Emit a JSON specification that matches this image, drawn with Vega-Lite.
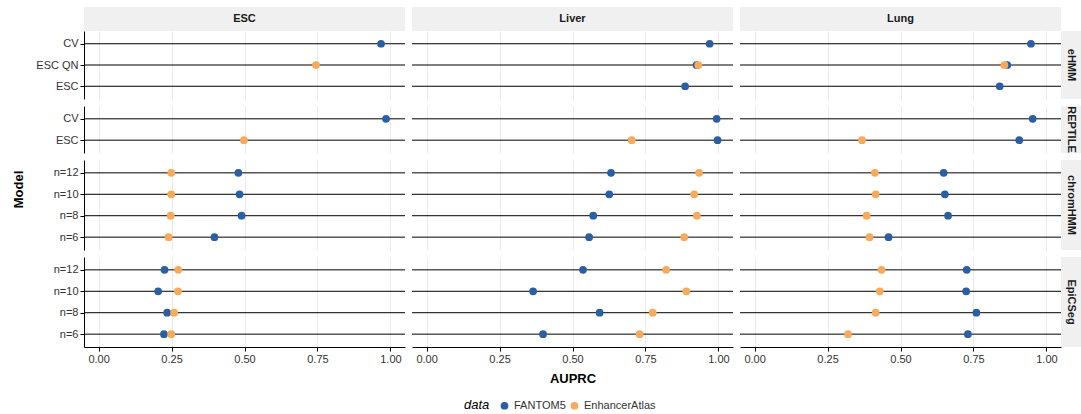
{
  "$schema": "https://vega.github.io/schema/vega-lite/v6.json",
  "background": "white",
  "autosize": {"type": "pad"},
  "padding": {"left": 0, "top": 7, "right": 0, "bottom": 0},
  "config": {
    "font": "Liberation Sans",
    "view": {"stroke": null},
    "legend": {
      "orient": "none",
      "legendX": 464,
      "legendY": 393,
      "direction": "horizontal",
      "titleOrient": "left",
      "titleFontStyle": "italic",
      "titleFontWeight": "normal",
      "titleFontSize": 13,
      "titleColor": "black",
      "titlePadding": 9,
      "labelFontSize": 11,
      "labelColor": "#333333",
      "labelOffset": 4,
      "columnPadding": 3,
      "symbolType": "circle",
      "symbolSize": 60,
      "symbolStrokeWidth": 0,
      "symbolOpacity": 1
    }
  },
  "datasets": {
    "models": [
      {"method": "eHMM", "model": "CV"},
      {"method": "eHMM", "model": "ESC QN"},
      {"method": "eHMM", "model": "ESC"},
      {"method": "REPTILE", "model": "CV"},
      {"method": "REPTILE", "model": "ESC"},
      {"method": "chromHMM", "model": "n=12"},
      {"method": "chromHMM", "model": "n=10"},
      {"method": "chromHMM", "model": "n=8"},
      {"method": "chromHMM", "model": "n=6"},
      {"method": "EpiCSeg", "model": "n=12"},
      {"method": "EpiCSeg", "model": "n=10"},
      {"method": "EpiCSeg", "model": "n=8"},
      {"method": "EpiCSeg", "model": "n=6"}
    ],
    "scores": [
      {"tissue": "ESC", "method": "eHMM", "model": "CV", "data": "FANTOM5", "auprc": 0.968},
      {"tissue": "ESC", "method": "eHMM", "model": "ESC QN", "data": "EnhancerAtlas", "auprc": 0.745},
      {"tissue": "ESC", "method": "REPTILE", "model": "CV", "data": "FANTOM5", "auprc": 0.985},
      {"tissue": "ESC", "method": "REPTILE", "model": "ESC", "data": "EnhancerAtlas", "auprc": 0.498},
      {"tissue": "ESC", "method": "chromHMM", "model": "n=12", "data": "FANTOM5", "auprc": 0.479},
      {"tissue": "ESC", "method": "chromHMM", "model": "n=10", "data": "FANTOM5", "auprc": 0.483},
      {"tissue": "ESC", "method": "chromHMM", "model": "n=8", "data": "FANTOM5", "auprc": 0.490},
      {"tissue": "ESC", "method": "chromHMM", "model": "n=6", "data": "FANTOM5", "auprc": 0.397},
      {"tissue": "ESC", "method": "chromHMM", "model": "n=12", "data": "EnhancerAtlas", "auprc": 0.249},
      {"tissue": "ESC", "method": "chromHMM", "model": "n=10", "data": "EnhancerAtlas", "auprc": 0.249},
      {"tissue": "ESC", "method": "chromHMM", "model": "n=8", "data": "EnhancerAtlas", "auprc": 0.247},
      {"tissue": "ESC", "method": "chromHMM", "model": "n=6", "data": "EnhancerAtlas", "auprc": 0.240},
      {"tissue": "ESC", "method": "EpiCSeg", "model": "n=12", "data": "FANTOM5", "auprc": 0.226},
      {"tissue": "ESC", "method": "EpiCSeg", "model": "n=10", "data": "FANTOM5", "auprc": 0.204},
      {"tissue": "ESC", "method": "EpiCSeg", "model": "n=8", "data": "FANTOM5", "auprc": 0.235},
      {"tissue": "ESC", "method": "EpiCSeg", "model": "n=6", "data": "FANTOM5", "auprc": 0.224},
      {"tissue": "ESC", "method": "EpiCSeg", "model": "n=12", "data": "EnhancerAtlas", "auprc": 0.273},
      {"tissue": "ESC", "method": "EpiCSeg", "model": "n=10", "data": "EnhancerAtlas", "auprc": 0.272},
      {"tissue": "ESC", "method": "EpiCSeg", "model": "n=8", "data": "EnhancerAtlas", "auprc": 0.259},
      {"tissue": "ESC", "method": "EpiCSeg", "model": "n=6", "data": "EnhancerAtlas", "auprc": 0.249},
      {"tissue": "Liver", "method": "eHMM", "model": "CV", "data": "FANTOM5", "auprc": 0.970},
      {"tissue": "Liver", "method": "eHMM", "model": "ESC QN", "data": "FANTOM5", "auprc": 0.925},
      {"tissue": "Liver", "method": "eHMM", "model": "ESC", "data": "FANTOM5", "auprc": 0.886},
      {"tissue": "Liver", "method": "eHMM", "model": "ESC QN", "data": "EnhancerAtlas", "auprc": 0.931},
      {"tissue": "Liver", "method": "REPTILE", "model": "CV", "data": "FANTOM5", "auprc": 0.994},
      {"tissue": "Liver", "method": "REPTILE", "model": "ESC", "data": "FANTOM5", "auprc": 0.997},
      {"tissue": "Liver", "method": "REPTILE", "model": "ESC", "data": "EnhancerAtlas", "auprc": 0.703},
      {"tissue": "Liver", "method": "chromHMM", "model": "n=12", "data": "FANTOM5", "auprc": 0.632},
      {"tissue": "Liver", "method": "chromHMM", "model": "n=10", "data": "FANTOM5", "auprc": 0.626},
      {"tissue": "Liver", "method": "chromHMM", "model": "n=8", "data": "FANTOM5", "auprc": 0.571},
      {"tissue": "Liver", "method": "chromHMM", "model": "n=6", "data": "FANTOM5", "auprc": 0.557},
      {"tissue": "Liver", "method": "chromHMM", "model": "n=12", "data": "EnhancerAtlas", "auprc": 0.934},
      {"tissue": "Liver", "method": "chromHMM", "model": "n=10", "data": "EnhancerAtlas", "auprc": 0.917},
      {"tissue": "Liver", "method": "chromHMM", "model": "n=8", "data": "EnhancerAtlas", "auprc": 0.926},
      {"tissue": "Liver", "method": "chromHMM", "model": "n=6", "data": "EnhancerAtlas", "auprc": 0.883},
      {"tissue": "Liver", "method": "EpiCSeg", "model": "n=12", "data": "FANTOM5", "auprc": 0.536},
      {"tissue": "Liver", "method": "EpiCSeg", "model": "n=10", "data": "FANTOM5", "auprc": 0.365},
      {"tissue": "Liver", "method": "EpiCSeg", "model": "n=8", "data": "FANTOM5", "auprc": 0.593},
      {"tissue": "Liver", "method": "EpiCSeg", "model": "n=6", "data": "FANTOM5", "auprc": 0.399},
      {"tissue": "Liver", "method": "EpiCSeg", "model": "n=12", "data": "EnhancerAtlas", "auprc": 0.821},
      {"tissue": "Liver", "method": "EpiCSeg", "model": "n=10", "data": "EnhancerAtlas", "auprc": 0.890},
      {"tissue": "Liver", "method": "EpiCSeg", "model": "n=8", "data": "EnhancerAtlas", "auprc": 0.775},
      {"tissue": "Liver", "method": "EpiCSeg", "model": "n=6", "data": "EnhancerAtlas", "auprc": 0.730},
      {"tissue": "Lung", "method": "eHMM", "model": "CV", "data": "FANTOM5", "auprc": 0.947},
      {"tissue": "Lung", "method": "eHMM", "model": "ESC QN", "data": "FANTOM5", "auprc": 0.866},
      {"tissue": "Lung", "method": "eHMM", "model": "ESC", "data": "FANTOM5", "auprc": 0.840},
      {"tissue": "Lung", "method": "eHMM", "model": "ESC QN", "data": "EnhancerAtlas", "auprc": 0.856},
      {"tissue": "Lung", "method": "REPTILE", "model": "CV", "data": "FANTOM5", "auprc": 0.953},
      {"tissue": "Lung", "method": "REPTILE", "model": "ESC", "data": "FANTOM5", "auprc": 0.907},
      {"tissue": "Lung", "method": "REPTILE", "model": "ESC", "data": "EnhancerAtlas", "auprc": 0.368},
      {"tissue": "Lung", "method": "chromHMM", "model": "n=12", "data": "FANTOM5", "auprc": 0.648},
      {"tissue": "Lung", "method": "chromHMM", "model": "n=10", "data": "FANTOM5", "auprc": 0.652},
      {"tissue": "Lung", "method": "chromHMM", "model": "n=8", "data": "FANTOM5", "auprc": 0.663},
      {"tissue": "Lung", "method": "chromHMM", "model": "n=6", "data": "FANTOM5", "auprc": 0.459},
      {"tissue": "Lung", "method": "chromHMM", "model": "n=12", "data": "EnhancerAtlas", "auprc": 0.412},
      {"tissue": "Lung", "method": "chromHMM", "model": "n=10", "data": "EnhancerAtlas", "auprc": 0.415},
      {"tissue": "Lung", "method": "chromHMM", "model": "n=8", "data": "EnhancerAtlas", "auprc": 0.384},
      {"tissue": "Lung", "method": "chromHMM", "model": "n=6", "data": "EnhancerAtlas", "auprc": 0.394},
      {"tissue": "Lung", "method": "EpiCSeg", "model": "n=12", "data": "FANTOM5", "auprc": 0.727},
      {"tissue": "Lung", "method": "EpiCSeg", "model": "n=10", "data": "FANTOM5", "auprc": 0.725},
      {"tissue": "Lung", "method": "EpiCSeg", "model": "n=8", "data": "FANTOM5", "auprc": 0.760},
      {"tissue": "Lung", "method": "EpiCSeg", "model": "n=6", "data": "FANTOM5", "auprc": 0.731},
      {"tissue": "Lung", "method": "EpiCSeg", "model": "n=12", "data": "EnhancerAtlas", "auprc": 0.435},
      {"tissue": "Lung", "method": "EpiCSeg", "model": "n=10", "data": "EnhancerAtlas", "auprc": 0.429},
      {"tissue": "Lung", "method": "EpiCSeg", "model": "n=8", "data": "EnhancerAtlas", "auprc": 0.415},
      {"tissue": "Lung", "method": "EpiCSeg", "model": "n=6", "data": "EnhancerAtlas", "auprc": 0.320}
    ]
  },
  "bounds": "flush",
  "columns": 7,
  "spacing": 0,
  "concat": [
    {"width": 84, "height": 24, "view": {"fill": "white", "stroke": null}, "data": {"values": []}, "mark": "point"},
    {"width": 321, "height": 24, "view": {"fill": "#F0F0F0", "stroke": null}, "data": {"values": [{"label": "ESC"}]}, "mark": {"type": "text", "fontWeight": "bold", "fontSize": 11, "color": "#1A1A1A", "align": "center", "baseline": "middle"}, "encoding": {"text": {"field": "label", "type": "nominal"}}},
    {"width": 6.5, "height": 24, "data": {"values": []}, "mark": "point"},
    {"width": 321, "height": 24, "view": {"fill": "#F0F0F0", "stroke": null}, "data": {"values": [{"label": "Liver"}]}, "mark": {"type": "text", "fontWeight": "bold", "fontSize": 11, "color": "#1A1A1A", "align": "center", "baseline": "middle"}, "encoding": {"text": {"field": "label", "type": "nominal"}}},
    {"width": 6.5, "height": 24, "data": {"values": []}, "mark": "point"},
    {"width": 321, "height": 24, "view": {"fill": "#F0F0F0", "stroke": null}, "data": {"values": [{"label": "Lung"}]}, "mark": {"type": "text", "fontWeight": "bold", "fontSize": 11, "color": "#1A1A1A", "align": "center", "baseline": "middle"}, "encoding": {"text": {"field": "label", "type": "nominal"}}},
    {"width": 20, "height": 24, "data": {"values": []}, "mark": "point"},

    {"width": 84, "height": 68, "data": {"values": []}, "mark": "point"},
    {
      "width": 321, "height": 68,
      "layer": [
        {"data": {"name": "models"}, "transform": [{"filter": "datum.method === 'eHMM'"}], "mark": {"type": "rule", "color": "black", "strokeWidth": 1}, "encoding": {"y": {"field": "model", "type": "nominal", "scale": {"type": "point", "domain": ["CV", "ESC QN", "ESC"], "padding": 0.6}, "axis": {"title": null, "domainColor": "black", "tickColor": "black", "tickSize": 4, "labelFontSize": 11, "labelColor": "#333333", "labelPadding": 2, "grid": false}}}},
        {"data": {"name": "scores"}, "transform": [{"filter": "datum.tissue === 'ESC' && datum.method === 'eHMM'"}], "mark": {"type": "circle", "size": 60, "opacity": 1}, "encoding": {"x": {"field": "auprc", "type": "quantitative", "scale": {"domain": [-0.05, 1.05], "nice": false, "zero": false}, "axis": {"values": [0, 0.25, 0.5, 0.75, 1], "grid": true, "gridColor": "#EBEBEB", "labels": false, "ticks": false, "domain": false, "title": null}}, "y": {"field": "model", "type": "nominal"}, "color": {"field": "data", "type": "nominal", "title": "data", "scale": {"domain": ["FANTOM5", "EnhancerAtlas"], "range": ["#2B5FA5", "#F8A959"]}}}}
      ]
    },
    {"width": 6.5, "height": 68, "data": {"values": []}, "mark": "point"},
    {
      "width": 321, "height": 68,
      "layer": [
        {"data": {"name": "models"}, "transform": [{"filter": "datum.method === 'eHMM'"}], "mark": {"type": "rule", "color": "black", "strokeWidth": 1}, "encoding": {"y": {"field": "model", "type": "nominal", "scale": {"type": "point", "domain": ["CV", "ESC QN", "ESC"], "padding": 0.6}, "axis": null}}},
        {"data": {"name": "scores"}, "transform": [{"filter": "datum.tissue === 'Liver' && datum.method === 'eHMM'"}], "mark": {"type": "circle", "size": 60, "opacity": 1}, "encoding": {"x": {"field": "auprc", "type": "quantitative", "scale": {"domain": [-0.05, 1.05], "nice": false, "zero": false}, "axis": {"values": [0, 0.25, 0.5, 0.75, 1], "grid": true, "gridColor": "#EBEBEB", "labels": false, "ticks": false, "domain": false, "title": null}}, "y": {"field": "model", "type": "nominal"}, "color": {"field": "data", "type": "nominal", "title": "data", "scale": {"domain": ["FANTOM5", "EnhancerAtlas"], "range": ["#2B5FA5", "#F8A959"]}}}}
      ]
    },
    {"width": 6.5, "height": 68, "data": {"values": []}, "mark": "point"},
    {
      "width": 321, "height": 68,
      "layer": [
        {"data": {"name": "models"}, "transform": [{"filter": "datum.method === 'eHMM'"}], "mark": {"type": "rule", "color": "black", "strokeWidth": 1}, "encoding": {"y": {"field": "model", "type": "nominal", "scale": {"type": "point", "domain": ["CV", "ESC QN", "ESC"], "padding": 0.6}, "axis": null}}},
        {"data": {"name": "scores"}, "transform": [{"filter": "datum.tissue === 'Lung' && datum.method === 'eHMM'"}], "mark": {"type": "circle", "size": 60, "opacity": 1}, "encoding": {"x": {"field": "auprc", "type": "quantitative", "scale": {"domain": [-0.05, 1.05], "nice": false, "zero": false}, "axis": {"values": [0, 0.25, 0.5, 0.75, 1], "grid": true, "gridColor": "#EBEBEB", "labels": false, "ticks": false, "domain": false, "title": null}}, "y": {"field": "model", "type": "nominal"}, "color": {"field": "data", "type": "nominal", "title": "data", "scale": {"domain": ["FANTOM5", "EnhancerAtlas"], "range": ["#2B5FA5", "#F8A959"]}}}}
      ]
    },
    {"width": 20, "height": 68, "view": {"fill": "#F0F0F0", "stroke": null}, "data": {"values": [{"label": "eHMM"}]}, "mark": {"type": "text", "angle": 90, "fontWeight": "bold", "fontSize": 11, "color": "#1A1A1A", "align": "center", "baseline": "middle"}, "encoding": {"text": {"field": "label", "type": "nominal"}}},

    {"width": 84, "height": 6.5, "data": {"values": []}, "mark": "point"},
    {"width": 321, "height": 6.5, "data": {"values": []}, "mark": "point"},
    {"width": 6.5, "height": 6.5, "data": {"values": []}, "mark": "point"},
    {"width": 321, "height": 6.5, "data": {"values": []}, "mark": "point"},
    {"width": 6.5, "height": 6.5, "data": {"values": []}, "mark": "point"},
    {"width": 321, "height": 6.5, "data": {"values": []}, "mark": "point"},
    {"width": 20, "height": 6.5, "data": {"values": []}, "mark": "point"},

    {"width": 84, "height": 47, "data": {"values": []}, "mark": "point"},
    {
      "width": 321, "height": 47,
      "layer": [
        {"data": {"name": "models"}, "transform": [{"filter": "datum.method === 'REPTILE'"}], "mark": {"type": "rule", "color": "black", "strokeWidth": 1}, "encoding": {"y": {"field": "model", "type": "nominal", "scale": {"type": "point", "domain": ["CV", "ESC"], "padding": 0.6}, "axis": {"title": null, "domainColor": "black", "tickColor": "black", "tickSize": 4, "labelFontSize": 11, "labelColor": "#333333", "labelPadding": 2, "grid": false}}}},
        {"data": {"name": "scores"}, "transform": [{"filter": "datum.tissue === 'ESC' && datum.method === 'REPTILE'"}], "mark": {"type": "circle", "size": 60, "opacity": 1}, "encoding": {"x": {"field": "auprc", "type": "quantitative", "scale": {"domain": [-0.05, 1.05], "nice": false, "zero": false}, "axis": {"values": [0, 0.25, 0.5, 0.75, 1], "grid": true, "gridColor": "#EBEBEB", "labels": false, "ticks": false, "domain": false, "title": null}}, "y": {"field": "model", "type": "nominal"}, "color": {"field": "data", "type": "nominal", "title": "data", "scale": {"domain": ["FANTOM5", "EnhancerAtlas"], "range": ["#2B5FA5", "#F8A959"]}}}}
      ]
    },
    {"width": 6.5, "height": 47, "data": {"values": []}, "mark": "point"},
    {
      "width": 321, "height": 47,
      "layer": [
        {"data": {"name": "models"}, "transform": [{"filter": "datum.method === 'REPTILE'"}], "mark": {"type": "rule", "color": "black", "strokeWidth": 1}, "encoding": {"y": {"field": "model", "type": "nominal", "scale": {"type": "point", "domain": ["CV", "ESC"], "padding": 0.6}, "axis": null}}},
        {"data": {"name": "scores"}, "transform": [{"filter": "datum.tissue === 'Liver' && datum.method === 'REPTILE'"}], "mark": {"type": "circle", "size": 60, "opacity": 1}, "encoding": {"x": {"field": "auprc", "type": "quantitative", "scale": {"domain": [-0.05, 1.05], "nice": false, "zero": false}, "axis": {"values": [0, 0.25, 0.5, 0.75, 1], "grid": true, "gridColor": "#EBEBEB", "labels": false, "ticks": false, "domain": false, "title": null}}, "y": {"field": "model", "type": "nominal"}, "color": {"field": "data", "type": "nominal", "title": "data", "scale": {"domain": ["FANTOM5", "EnhancerAtlas"], "range": ["#2B5FA5", "#F8A959"]}}}}
      ]
    },
    {"width": 6.5, "height": 47, "data": {"values": []}, "mark": "point"},
    {
      "width": 321, "height": 47,
      "layer": [
        {"data": {"name": "models"}, "transform": [{"filter": "datum.method === 'REPTILE'"}], "mark": {"type": "rule", "color": "black", "strokeWidth": 1}, "encoding": {"y": {"field": "model", "type": "nominal", "scale": {"type": "point", "domain": ["CV", "ESC"], "padding": 0.6}, "axis": null}}},
        {"data": {"name": "scores"}, "transform": [{"filter": "datum.tissue === 'Lung' && datum.method === 'REPTILE'"}], "mark": {"type": "circle", "size": 60, "opacity": 1}, "encoding": {"x": {"field": "auprc", "type": "quantitative", "scale": {"domain": [-0.05, 1.05], "nice": false, "zero": false}, "axis": {"values": [0, 0.25, 0.5, 0.75, 1], "grid": true, "gridColor": "#EBEBEB", "labels": false, "ticks": false, "domain": false, "title": null}}, "y": {"field": "model", "type": "nominal"}, "color": {"field": "data", "type": "nominal", "title": "data", "scale": {"domain": ["FANTOM5", "EnhancerAtlas"], "range": ["#2B5FA5", "#F8A959"]}}}}
      ]
    },
    {"width": 20, "height": 47, "view": {"fill": "#F0F0F0", "stroke": null}, "data": {"values": [{"label": "REPTILE"}]}, "mark": {"type": "text", "angle": 90, "fontWeight": "bold", "fontSize": 11, "color": "#1A1A1A", "align": "center", "baseline": "middle"}, "encoding": {"text": {"field": "label", "type": "nominal"}}},

    {"width": 84, "height": 6.5, "data": {"values": []}, "mark": "point"},
    {"width": 321, "height": 6.5, "data": {"values": []}, "mark": "point"},
    {"width": 6.5, "height": 6.5, "data": {"values": []}, "mark": "point"},
    {"width": 321, "height": 6.5, "data": {"values": []}, "mark": "point"},
    {"width": 6.5, "height": 6.5, "data": {"values": []}, "mark": "point"},
    {"width": 321, "height": 6.5, "data": {"values": []}, "mark": "point"},
    {"width": 20, "height": 6.5, "data": {"values": []}, "mark": "point"},

    {"width": 84, "height": 90, "data": {"values": []}, "mark": "point"},
    {
      "width": 321, "height": 90,
      "layer": [
        {"data": {"name": "models"}, "transform": [{"filter": "datum.method === 'chromHMM'"}], "mark": {"type": "rule", "color": "black", "strokeWidth": 1}, "encoding": {"y": {"field": "model", "type": "nominal", "scale": {"type": "point", "domain": ["n=12", "n=10", "n=8", "n=6"], "padding": 0.6}, "axis": {"title": "Model", "titleFontSize": 13, "titleFontWeight": "bold", "titleColor": "black", "titleAngle": 270, "titleX": -65.5, "titleY": 29, "titleAlign": "center", "titleBaseline": "middle", "domainColor": "black", "tickColor": "black", "tickSize": 4, "labelFontSize": 11, "labelColor": "#333333", "labelPadding": 2, "grid": false}}}},
        {"data": {"name": "scores"}, "transform": [{"filter": "datum.tissue === 'ESC' && datum.method === 'chromHMM'"}], "mark": {"type": "circle", "size": 60, "opacity": 1}, "encoding": {"x": {"field": "auprc", "type": "quantitative", "scale": {"domain": [-0.05, 1.05], "nice": false, "zero": false}, "axis": {"values": [0, 0.25, 0.5, 0.75, 1], "grid": true, "gridColor": "#EBEBEB", "labels": false, "ticks": false, "domain": false, "title": null}}, "y": {"field": "model", "type": "nominal"}, "color": {"field": "data", "type": "nominal", "title": "data", "scale": {"domain": ["FANTOM5", "EnhancerAtlas"], "range": ["#2B5FA5", "#F8A959"]}}}}
      ]
    },
    {"width": 6.5, "height": 90, "data": {"values": []}, "mark": "point"},
    {
      "width": 321, "height": 90,
      "layer": [
        {"data": {"name": "models"}, "transform": [{"filter": "datum.method === 'chromHMM'"}], "mark": {"type": "rule", "color": "black", "strokeWidth": 1}, "encoding": {"y": {"field": "model", "type": "nominal", "scale": {"type": "point", "domain": ["n=12", "n=10", "n=8", "n=6"], "padding": 0.6}, "axis": null}}},
        {"data": {"name": "scores"}, "transform": [{"filter": "datum.tissue === 'Liver' && datum.method === 'chromHMM'"}], "mark": {"type": "circle", "size": 60, "opacity": 1}, "encoding": {"x": {"field": "auprc", "type": "quantitative", "scale": {"domain": [-0.05, 1.05], "nice": false, "zero": false}, "axis": {"values": [0, 0.25, 0.5, 0.75, 1], "grid": true, "gridColor": "#EBEBEB", "labels": false, "ticks": false, "domain": false, "title": null}}, "y": {"field": "model", "type": "nominal"}, "color": {"field": "data", "type": "nominal", "title": "data", "scale": {"domain": ["FANTOM5", "EnhancerAtlas"], "range": ["#2B5FA5", "#F8A959"]}}}}
      ]
    },
    {"width": 6.5, "height": 90, "data": {"values": []}, "mark": "point"},
    {
      "width": 321, "height": 90,
      "layer": [
        {"data": {"name": "models"}, "transform": [{"filter": "datum.method === 'chromHMM'"}], "mark": {"type": "rule", "color": "black", "strokeWidth": 1}, "encoding": {"y": {"field": "model", "type": "nominal", "scale": {"type": "point", "domain": ["n=12", "n=10", "n=8", "n=6"], "padding": 0.6}, "axis": null}}},
        {"data": {"name": "scores"}, "transform": [{"filter": "datum.tissue === 'Lung' && datum.method === 'chromHMM'"}], "mark": {"type": "circle", "size": 60, "opacity": 1}, "encoding": {"x": {"field": "auprc", "type": "quantitative", "scale": {"domain": [-0.05, 1.05], "nice": false, "zero": false}, "axis": {"values": [0, 0.25, 0.5, 0.75, 1], "grid": true, "gridColor": "#EBEBEB", "labels": false, "ticks": false, "domain": false, "title": null}}, "y": {"field": "model", "type": "nominal"}, "color": {"field": "data", "type": "nominal", "title": "data", "scale": {"domain": ["FANTOM5", "EnhancerAtlas"], "range": ["#2B5FA5", "#F8A959"]}}}}
      ]
    },
    {"width": 20, "height": 90, "view": {"fill": "#F0F0F0", "stroke": null}, "data": {"values": [{"label": "chromHMM"}]}, "mark": {"type": "text", "angle": 90, "fontWeight": "bold", "fontSize": 11, "color": "#1A1A1A", "align": "center", "baseline": "middle"}, "encoding": {"text": {"field": "label", "type": "nominal"}}},

    {"width": 84, "height": 6.5, "data": {"values": []}, "mark": "point"},
    {"width": 321, "height": 6.5, "data": {"values": []}, "mark": "point"},
    {"width": 6.5, "height": 6.5, "data": {"values": []}, "mark": "point"},
    {"width": 321, "height": 6.5, "data": {"values": []}, "mark": "point"},
    {"width": 6.5, "height": 6.5, "data": {"values": []}, "mark": "point"},
    {"width": 321, "height": 6.5, "data": {"values": []}, "mark": "point"},
    {"width": 20, "height": 6.5, "data": {"values": []}, "mark": "point"},

    {"width": 84, "height": 90, "data": {"values": []}, "mark": "point"},
    {
      "width": 321, "height": 90,
      "layer": [
        {"data": {"name": "models"}, "transform": [{"filter": "datum.method === 'EpiCSeg'"}], "mark": {"type": "rule", "color": "black", "strokeWidth": 1}, "encoding": {"y": {"field": "model", "type": "nominal", "scale": {"type": "point", "domain": ["n=12", "n=10", "n=8", "n=6"], "padding": 0.6}, "axis": {"title": null, "domainColor": "black", "tickColor": "black", "tickSize": 4, "labelFontSize": 11, "labelColor": "#333333", "labelPadding": 2, "grid": false}}}},
        {"data": {"name": "scores"}, "transform": [{"filter": "datum.tissue === 'ESC' && datum.method === 'EpiCSeg'"}], "mark": {"type": "circle", "size": 60, "opacity": 1}, "encoding": {"x": {"field": "auprc", "type": "quantitative", "scale": {"domain": [-0.05, 1.05], "nice": false, "zero": false}, "axis": {"values": [0, 0.25, 0.5, 0.75, 1], "format": ".2f", "title": null, "grid": true, "gridColor": "#EBEBEB", "domainColor": "black", "tickColor": "black", "tickSize": 4, "labelFontSize": 11, "labelColor": "#333333", "labelPadding": 2}}, "y": {"field": "model", "type": "nominal"}, "color": {"field": "data", "type": "nominal", "title": "data", "scale": {"domain": ["FANTOM5", "EnhancerAtlas"], "range": ["#2B5FA5", "#F8A959"]}}}}
      ]
    },
    {"width": 6.5, "height": 90, "data": {"values": []}, "mark": "point"},
    {
      "width": 321, "height": 90,
      "layer": [
        {"data": {"name": "models"}, "transform": [{"filter": "datum.method === 'EpiCSeg'"}], "mark": {"type": "rule", "color": "black", "strokeWidth": 1}, "encoding": {"y": {"field": "model", "type": "nominal", "scale": {"type": "point", "domain": ["n=12", "n=10", "n=8", "n=6"], "padding": 0.6}, "axis": null}}},
        {"data": {"name": "scores"}, "transform": [{"filter": "datum.tissue === 'Liver' && datum.method === 'EpiCSeg'"}], "mark": {"type": "circle", "size": 60, "opacity": 1}, "encoding": {"x": {"field": "auprc", "type": "quantitative", "scale": {"domain": [-0.05, 1.05], "nice": false, "zero": false}, "axis": {"values": [0, 0.25, 0.5, 0.75, 1], "format": ".2f", "title": "AUPRC", "titleFontSize": 13, "titleFontWeight": "bold", "titleColor": "black", "titlePadding": 8, "grid": true, "gridColor": "#EBEBEB", "domainColor": "black", "tickColor": "black", "tickSize": 4, "labelFontSize": 11, "labelColor": "#333333", "labelPadding": 2}}, "y": {"field": "model", "type": "nominal"}, "color": {"field": "data", "type": "nominal", "title": "data", "scale": {"domain": ["FANTOM5", "EnhancerAtlas"], "range": ["#2B5FA5", "#F8A959"]}}}}
      ]
    },
    {"width": 6.5, "height": 90, "data": {"values": []}, "mark": "point"},
    {
      "width": 321, "height": 90,
      "layer": [
        {"data": {"name": "models"}, "transform": [{"filter": "datum.method === 'EpiCSeg'"}], "mark": {"type": "rule", "color": "black", "strokeWidth": 1}, "encoding": {"y": {"field": "model", "type": "nominal", "scale": {"type": "point", "domain": ["n=12", "n=10", "n=8", "n=6"], "padding": 0.6}, "axis": null}}},
        {"data": {"name": "scores"}, "transform": [{"filter": "datum.tissue === 'Lung' && datum.method === 'EpiCSeg'"}], "mark": {"type": "circle", "size": 60, "opacity": 1}, "encoding": {"x": {"field": "auprc", "type": "quantitative", "scale": {"domain": [-0.05, 1.05], "nice": false, "zero": false}, "axis": {"values": [0, 0.25, 0.5, 0.75, 1], "format": ".2f", "title": null, "grid": true, "gridColor": "#EBEBEB", "domainColor": "black", "tickColor": "black", "tickSize": 4, "labelFontSize": 11, "labelColor": "#333333", "labelPadding": 2}}, "y": {"field": "model", "type": "nominal"}, "color": {"field": "data", "type": "nominal", "title": "data", "scale": {"domain": ["FANTOM5", "EnhancerAtlas"], "range": ["#2B5FA5", "#F8A959"]}}}}
      ]
    },
    {"width": 20, "height": 90, "view": {"fill": "#F0F0F0", "stroke": null}, "data": {"values": [{"label": "EpiCSeg"}]}, "mark": {"type": "text", "angle": 90, "fontWeight": "bold", "fontSize": 11, "color": "#1A1A1A", "align": "center", "baseline": "middle"}, "encoding": {"text": {"field": "label", "type": "nominal"}}}
  ]
}
